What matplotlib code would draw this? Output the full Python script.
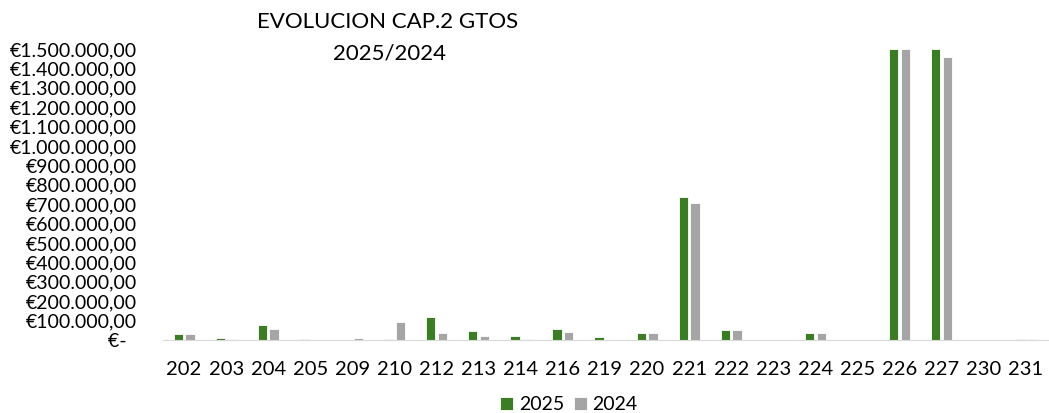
import numpy as np
import matplotlib.pyplot as plt

plt.rcParams['font.family'] = ['Lato', 'DejaVu Sans']

categories = ['202', '203', '204', '205', '209', '210', '212', '213', '214', '216', '219',
              '220', '221', '222', '223', '224', '225', '226', '227', '230', '231']
v2025 = [32000, 10000, 77000, 3000, 1000, 4000, 117000, 46000, 20000, 58000, 14000,
         36000, 739000, 53000, 0, 34000, 0, 1500000, 1500000, 2000, 3000]
v2024 = [32000, 4000, 58000, 0, 10000, 94000, 36000, 21000, 3000, 41000, 0,
         37000, 705000, 52000, 0, 34000, 0, 1500000, 1460000, 2000, 3000]
yticks = list(range(0, 1500001, 100000))


def euro(v):
    # formato contable: cero como "€-"
    if v == 0:
        return '€-  '
    s = f'{v:,.2f}'.replace(',', 'X').replace('.', ',').replace('X', '.')
    return '€' + s


fig = plt.figure(figsize=(10.49, 4.13), dpi=100)
ax = fig.add_axes([163 / 1049, 1 - 340 / 413, 1 - 163 / 1049, (340 - 49) / 413])

x = np.arange(len(categories))
w = 0.22
ax.bar(x - 0.14, v2025, w, color='#3B7D23', edgecolor='white', linewidth=0.6, label='2025')
ax.bar(x + 0.14, v2024, w, color='#A5A5A5', edgecolor='white', linewidth=0.6, label='2024')

ax.set_xlim(-0.5, len(categories) - 0.45)
ax.set_ylim(0, 1500000)
ax.set_yticks(yticks)
ax.set_yticklabels([euro(v) for v in yticks], fontsize=14)
ax.set_xticks(x)
ax.set_xticklabels(categories, fontsize=14.5)
ax.tick_params(length=0)
ax.tick_params(axis='y', pad=19)
ax.tick_params(axis='x', pad=15)
for s in ['top', 'right', 'left']:
    ax.spines[s].set_visible(False)
ax.spines['bottom'].set_color('#D9D9D9')

fig.text(388 / 1049, 1 - 22 / 413, 'EVOLUCION CAP.2 GTOS', ha='center', va='center', fontsize=16)
fig.text(390 / 1049, 1 - 54 / 413, '2025/2024', ha='center', va='center', fontsize=16)

fig.legend(loc='center', bbox_to_anchor=(569 / 1049, 1 - 405 / 413), ncol=2, frameon=False,
           fontsize=14, handlelength=0.65, handleheight=0.65, handletextpad=0.3, columnspacing=0.5,
           borderpad=0)

fig.savefig('out.png', dpi=100)
